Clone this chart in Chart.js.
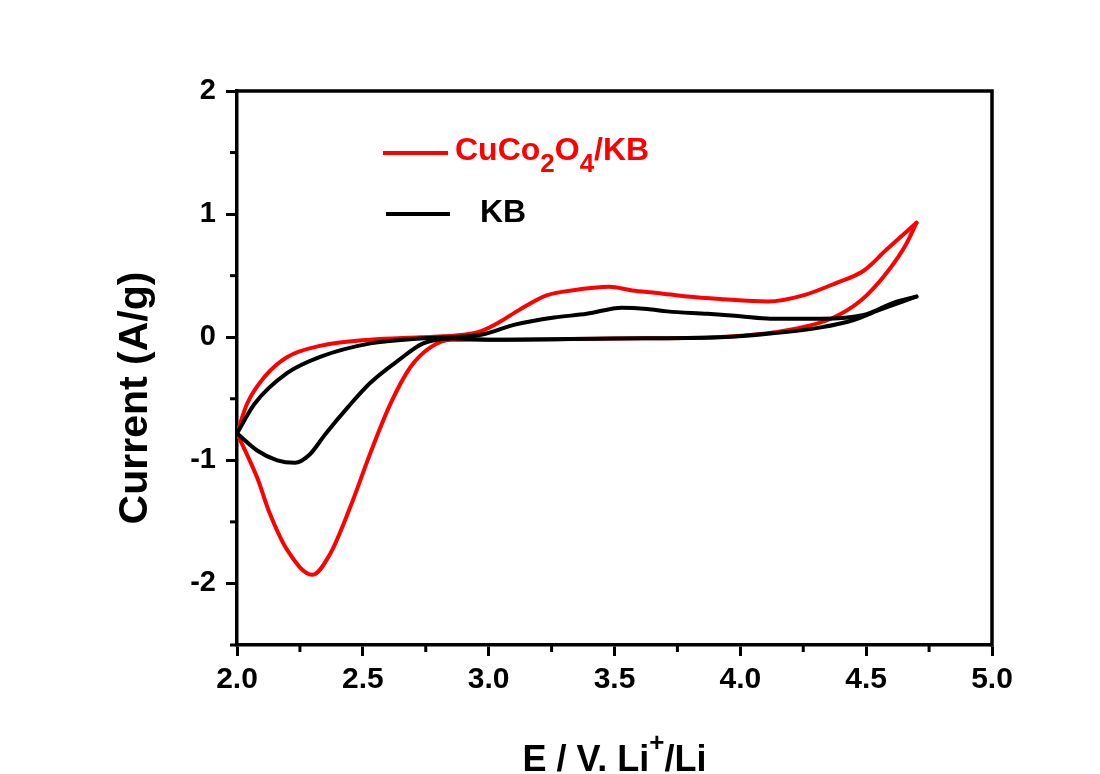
<!DOCTYPE html>
<html>
<head>
<meta charset="utf-8">
<script src="https://cdn.jsdelivr.net/npm/chart.js@4.4.1/dist/chart.umd.min.js"></script>
<style>
  html, body { margin: 0; padding: 0; background: #fff; }
  #wrap { width: 1100px; height: 774px; }
</style>
</head>
<body>
<div id="wrap"><canvas id="cv" width="1100" height="774"></canvas></div>
<script>
// CuCo2O4/KB - varredura anódica (E em V, corrente em A/g)
const cucoAnodicE = [2.00, 2.04, 2.11, 2.20, 2.33, 2.53, 2.73, 2.90, 2.97, 3.04, 3.12, 3.23, 3.33, 3.48, 3.57, 3.67, 3.79, 3.92, 4.11, 4.25, 4.38, 4.49, 4.58, 4.70];
const cucoAnodicI = [-0.78, -0.54, -0.32, -0.16, -0.07, -0.02, 0.00, 0.02, 0.05, 0.12, 0.22, 0.34, 0.38, 0.41, 0.38, 0.36, 0.33, 0.31, 0.29, 0.34, 0.44, 0.54, 0.71, 0.93];
// CuCo2O4/KB - varredura catódica (ordenada por E)
const cucoCathodicE = [2.00, 2.08, 2.13, 2.20, 2.30, 2.37, 2.45, 2.53, 2.61, 2.69, 2.77, 2.85, 3.00, 3.50, 3.90, 4.05, 4.22, 4.36, 4.48, 4.58, 4.66, 4.70];
const cucoCathodicI = [-0.78, -1.14, -1.43, -1.73, -1.93, -1.76, -1.38, -0.94, -0.54, -0.24, -0.08, -0.02, -0.02, -0.01, 0.00, 0.02, 0.07, 0.15, 0.30, 0.52, 0.76, 0.93];

// KB
const kbAnodicE = [2.00, 2.07, 2.20, 2.33, 2.53, 2.73, 2.97, 3.10, 3.26, 3.39, 3.53, 3.63, 3.71, 3.87, 4.00, 4.12, 4.32, 4.49, 4.61, 4.70];
const kbAnodicI = [-0.78, -0.54, -0.29, -0.16, -0.05, -0.01, 0.02, 0.10, 0.16, 0.19, 0.24, 0.23, 0.21, 0.19, 0.17, 0.15, 0.15, 0.18, 0.28, 0.33];
const kbCathodicE = [2.00, 2.08, 2.16, 2.23, 2.29, 2.35, 2.44, 2.53, 2.64, 2.74, 2.86, 3.00, 3.50, 3.92, 4.12, 4.32, 4.45, 4.55, 4.70];
const kbCathodicI = [-0.78, -0.92, -1.00, -1.02, -0.95, -0.79, -0.57, -0.37, -0.19, -0.05, -0.01, -0.02, -0.01, 0.00, 0.03, 0.08, 0.14, 0.22, 0.33];

// eixos
const xMin = 2.0, xMax = 5.0, xStep = 0.25, xMajor = 0.5;
const yMin = -2.5, yMax = 2.0, yStep = 0.5, yMajor = 1;

const FONT = 'Arial, "Liberation Sans", sans-serif';
const RED = "#ff0000";

function pts(es, is) { return es.map((e, i) => ({ x: e, y: is[i] })); }
function isMajor(v, m) { return Math.abs(v / m - Math.round(v / m)) < 1e-6; }

function serie(data, color, order) {
  return {
    data, borderColor: color, borderWidth: 4, pointRadius: 0,
    cubicInterpolationMode: "monotone", fill: false, order,
    borderCapStyle: "round", borderJoinStyle: "round"
  };
}

// moldura, ticks menores, títulos e legenda
const extras = {
  id: "extras",
  afterDraw(chart) {
    const { ctx, chartArea: a, scales } = chart;
    ctx.save();
    ctx.strokeStyle = "#000";
    ctx.lineWidth = 3.5;
    ctx.beginPath();
    ctx.moveTo(a.left - 1.5, a.top); ctx.lineTo(a.right, a.top); ctx.lineTo(a.right, a.bottom + 1.5);
    ctx.stroke();

    // ticks menores
    ctx.lineWidth = 3;
    scales.x.ticks.forEach(t => {
      if (isMajor(t.value, xMajor)) return;
      const px = scales.x.getPixelForValue(t.value);
      ctx.beginPath(); ctx.moveTo(px, a.bottom); ctx.lineTo(px, a.bottom + 7); ctx.stroke();
    });
    scales.y.ticks.forEach(t => {
      if (isMajor(t.value, yMajor)) return;
      const py = scales.y.getPixelForValue(t.value);
      ctx.beginPath(); ctx.moveTo(a.left, py); ctx.lineTo(a.left - 7, py); ctx.stroke();
    });

    // título eixo x: E / V. Li+/Li
    ctx.fillStyle = "#000";
    ctx.textBaseline = "alphabetic";
    const big = `bold 36px ${FONT}`, sup = `bold 26px ${FONT}`;
    ctx.font = big;
    const p1 = "E / V. Li", p3 = "/Li";
    const w1 = ctx.measureText(p1).width, w3 = ctx.measureText(p3).width;
    ctx.font = sup;
    const w2 = ctx.measureText("+").width;
    let x0 = (a.left + a.right) / 2 - (w1 + w2 + w3) / 2;
    const base = 771;
    ctx.font = big; ctx.textAlign = "left";
    ctx.fillText(p1, x0, base);
    ctx.font = sup; ctx.fillText("+", x0 + w1, base - 20);
    ctx.font = big; ctx.fillText(p3, x0 + w1 + w2, base);

    // título eixo y
    ctx.save();
    ctx.translate(136, 398);
    ctx.rotate(-Math.PI / 2);
    ctx.font = `bold 41px ${FONT}`;
    ctx.textAlign = "center";
    ctx.textBaseline = "middle";
    ctx.fillText("Current (A/g)", 0, 0);
    ctx.restore();

    // legenda
    ctx.lineWidth = 4;
    ctx.strokeStyle = RED;
    ctx.beginPath(); ctx.moveTo(383, 153); ctx.lineTo(448, 153); ctx.stroke();
    ctx.strokeStyle = "#000";
    ctx.beginPath(); ctx.moveTo(386, 214); ctx.lineTo(450, 214); ctx.stroke();

    const lf = `bold 32px ${FONT}`, lsub = `bold 26px ${FONT}`;
    const parts = [["Cu", lf, 0], ["Co", lf, 0], ["2", lsub, 12], ["O", lf, 0], ["4", lsub, 12], ["/KB", lf, 0]];
    let lx = 455;
    ctx.fillStyle = RED; ctx.textAlign = "left"; ctx.textBaseline = "alphabetic";
    parts.forEach(([s, f, dy]) => {
      ctx.font = f; ctx.fillText(s, lx, 160 + dy); lx += ctx.measureText(s).width;
    });
    ctx.fillStyle = "#000"; ctx.font = lf;
    ctx.fillText("KB", 480, 222);
    ctx.restore();
  }
};

new Chart(document.getElementById("cv"), {
  type: "line",
  data: {
    datasets: [
      serie(pts(cucoAnodicE, cucoAnodicI), RED, 2),
      serie(pts(cucoCathodicE, cucoCathodicI), RED, 2),
      serie(pts(kbAnodicE, kbAnodicI), "#000", 1),
      serie(pts(kbCathodicE, kbCathodicI), "#000", 1)
    ]
  },
  options: {
    responsive: false,
    animation: false,
    events: [],
    layout: { padding: { left: 0, top: 91, right: 108, bottom: 0 } },
    plugins: { legend: { display: false }, tooltip: { enabled: false } },
    scales: {
      x: {
        type: "linear", min: xMin, max: xMax,
        afterFit: s => { s.height = 774 - 645; },
        afterBuildTicks: s => {
          const t = [];
          for (let v = xMin; v <= xMax + 1e-9; v += xStep) t.push({ value: +v.toFixed(2) });
          s.ticks = t;
        },
        border: { color: "#000", width: 3.5 },
        grid: {
          drawOnChartArea: false, drawTicks: true, tickLength: 11, tickWidth: 3,
          tickColor: c => (c.tick && isMajor(c.tick.value, xMajor)) ? "#000" : "rgba(0,0,0,0)"
        },
        ticks: {
          autoSkip: false, maxRotation: 0, padding: 6, color: "#000",
          font: { family: FONT, size: 30, weight: "bold" },
          callback: v => isMajor(v, xMajor) ? v.toFixed(1) : ""
        }
      },
      y: {
        type: "linear", min: yMin, max: yMax,
        afterFit: s => { s.width = 237; },
        afterBuildTicks: s => {
          const t = [];
          for (let v = yMin; v <= yMax + 1e-9; v += yStep) t.push({ value: +v.toFixed(2) });
          s.ticks = t;
        },
        border: { color: "#000", width: 3.5 },
        grid: {
          drawOnChartArea: false, drawTicks: true, tickLength: 11, tickWidth: 3,
          tickColor: c => (c.tick && isMajor(c.tick.value, yMajor)) ? "#000" : "rgba(0,0,0,0)"
        },
        ticks: {
          autoSkip: false, padding: 10, color: "#000",
          font: { family: FONT, size: 29, weight: "bold" },
          callback: v => isMajor(v, yMajor) ? String(v) : ""
        }
      }
    }
  },
  plugins: [extras]
});
</script>
</body>
</html>
